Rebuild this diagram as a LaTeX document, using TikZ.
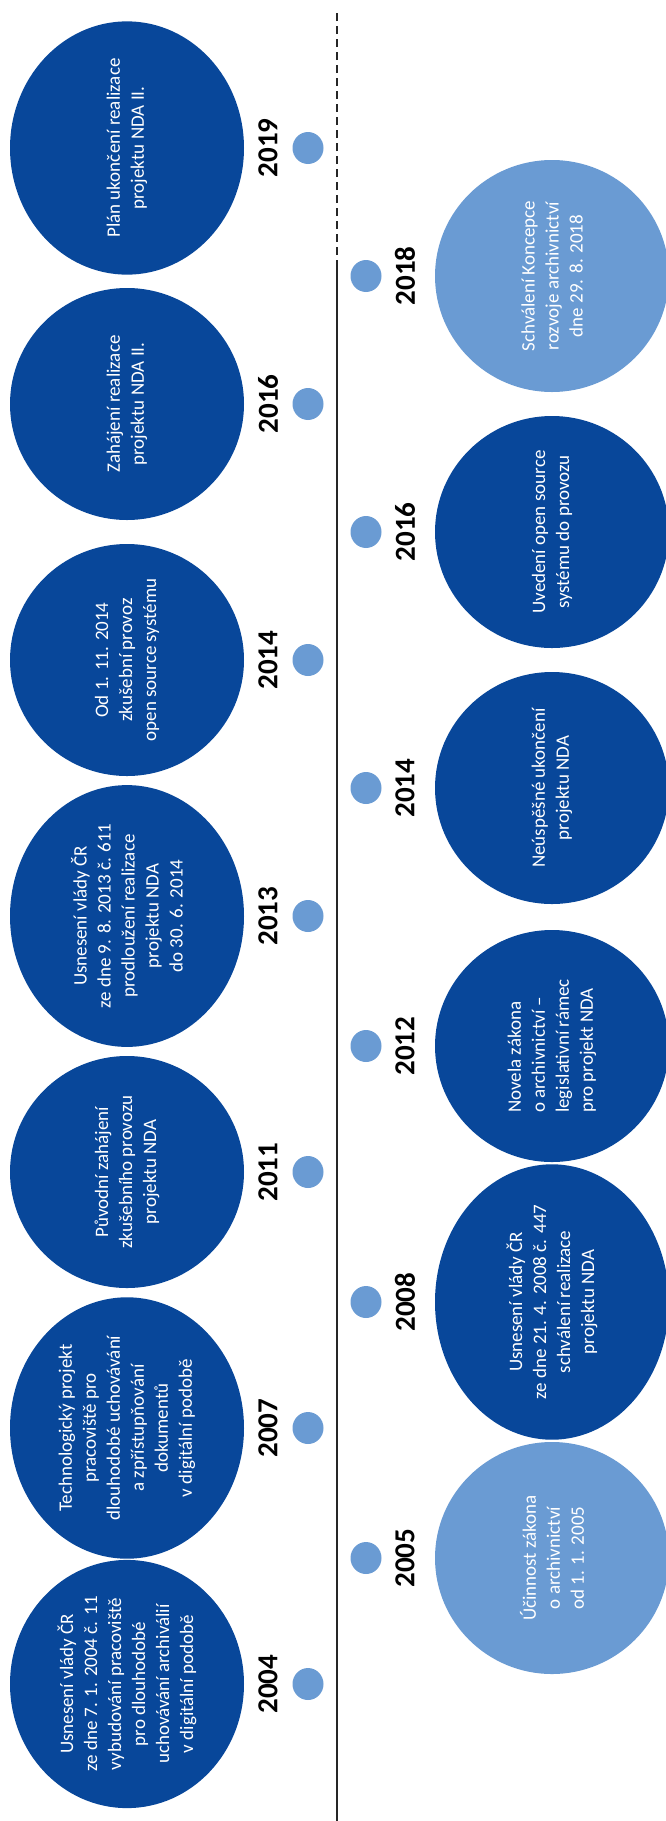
\documentclass[tikz,border=0pt]{standalone}
\usepackage{fontspec}
\setmainfont{Carlito}
\usepackage{tikz}
\usetikzlibrary{shapes.geometric}

\definecolor{tmava}{HTML}{08479A}
\definecolor{svetla}{HTML}{6A9BD3}

\begin{document}
\begin{tikzpicture}[
  x=1pt, y=1pt,
  udalost/.style={
    ellipse,
    fill=tmava,
    text=white,
    rotate=90,
    minimum width=232pt,
    minimum height=234pt,
    inner sep=0pt,
    align=center,
    font=\fontsize{19}{24}\selectfont
  },
  udalost2/.style={
    udalost,
    fill=svetla
  },
  rok/.style={
    font=\bfseries\fontsize{29}{29}\selectfont,
    text=black,
    rotate=90,
    inner sep=0pt
  },
  tecka/.style={
    ellipse,
    fill=svetla,
    minimum width=31pt,
    minimum height=32pt,
    inner sep=0pt
  },
  osa/.style={
    line width=2.2pt,
    draw=black!85
  }
]
\useasboundingbox (0,0) rectangle (665,-1821);

% Osa
\coordinate (start) at (337,-1821);
\coordinate (dnes) at (337,-268);
\coordinate (konec) at (337,-12);
\draw[osa] (start) -- (dnes);
\draw[osa, dash pattern=on 8pt off 5pt] (dnes) -- (konec);

% Horní řada (vlevo)
\node[udalost] (u2004) at (127,-1684) {Usnesení vlády ČR\\ze dne 7. 1. 2004 č. 11\\vybudování pracoviště\\pro dlouhodobé\\uchovávání archiválií\\v digitální podobě};
\node[rok] (r2004) at (268,-1684) {2004};
\node[tecka] (t2004) at (308,-1684) {};

\node[udalost] (u2007) at (127,-1428) {Technologický projekt\\pracoviště pro\\dlouhodobé uchovávání\\a zpřístupňování\\dokumentů\\v digitální podobě};
\node[rok] (r2007) at (268,-1428) {2007};
\node[tecka] (t2007) at (308,-1428) {};

\node[udalost] (u2011) at (127,-1172) {Původní zahájení\\zkušebního provozu\\projektu NDA};
\node[rok] (r2011) at (268,-1172) {2011};
\node[tecka] (t2011) at (308,-1172) {};

\node[udalost] (u2013) at (127,-916) {Usnesení vlády ČR\\ze dne 9. 8. 2013 č. 611\\prodloužení realizace\\projektu NDA\\do 30. 6. 2014};
\node[rok] (r2013) at (268,-916) {2013};
\node[tecka] (t2013) at (308,-916) {};

\node[udalost] (u2014a) at (127,-660) {Od 1. 11. 2014\\zkušební provoz\\open source systému};
\node[rok] (r2014a) at (268,-660) {2014};
\node[tecka] (t2014a) at (308,-660) {};

\node[udalost] (u2016a) at (127,-404) {Zahájení realizace\\projektu NDA II.};
\node[rok] (r2016a) at (268,-404) {2016};
\node[tecka] (t2016a) at (308,-404) {};

\node[udalost] (u2019) at (127,-148) {Plán ukončení realizace\\projektu NDA II.};
\node[rok] (r2019) at (268,-148) {2019};
\node[tecka] (t2019) at (308,-148) {};

% Dolní řada (vpravo)
\node[udalost2] (u2005) at (552,-1558) {Účinnost zákona\\o archivnictví\\od 1. 1. 2005};
\node[rok] (r2005) at (405,-1558) {2005};
\node[tecka] (t2005) at (366,-1558) {};

\node[udalost] (u2008) at (552,-1302) {Usnesení vlády ČR\\ze dne 21. 4. 2008 č. 447\\schválení realizace\\projektu NDA};
\node[rok] (r2008) at (405,-1302) {2008};
\node[tecka] (t2008) at (366,-1302) {};

\node[udalost, align=left] (u2012) at (552,-1046) {Novela zákona\\o archivnictví –\\legislativní rámec\\pro projekt NDA};
\node[rok] (r2012) at (405,-1046) {2012};
\node[tecka] (t2012) at (366,-1046) {};

\node[udalost] (u2014b) at (552,-788) {Neúspěšné ukončení\\projektu NDA};
\node[rok] (r2014b) at (405,-788) {2014};
\node[tecka] (t2014b) at (366,-788) {};

\node[udalost] (u2016b) at (552,-532) {Uvedení open source\\systému do provozu};
\node[rok] (r2016b) at (405,-532) {2016};
\node[tecka] (t2016b) at (366,-532) {};

\node[udalost2] (u2018) at (552,-276) {Schválení Koncepce\\rozvoje archivnictví\\dne 29. 8. 2018};
\node[rok] (r2018) at (405,-276) {2018};
\node[tecka] (t2018) at (366,-276) {};

\end{tikzpicture}
\end{document}
